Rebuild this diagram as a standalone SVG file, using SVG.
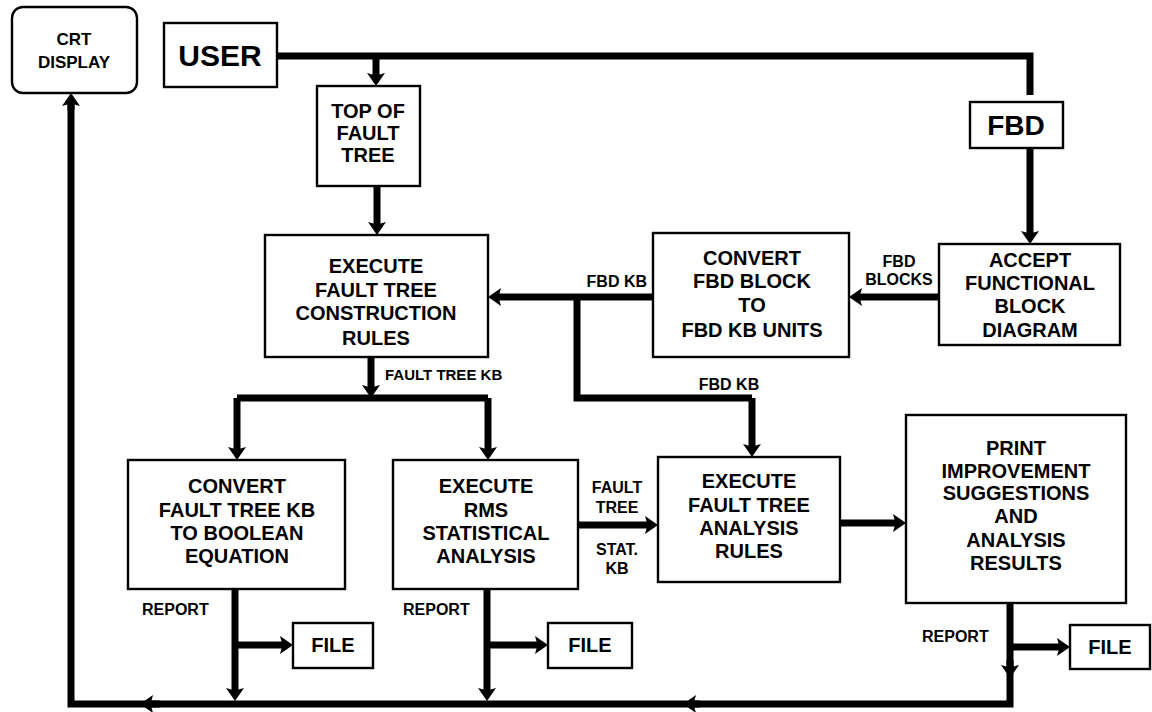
<svg xmlns="http://www.w3.org/2000/svg" width="1152" height="712" viewBox="0 0 1152 712">
<style>
.box{fill:#fff;stroke:#000;stroke-width:2.4}
.t{font-family:"Liberation Sans",Arial,sans-serif;font-weight:bold;font-size:20px;text-anchor:middle;fill:#000}
.lbl{font-family:"Liberation Sans",Arial,sans-serif;font-weight:bold;font-size:16px;fill:#000}
.c{fill:none;stroke:#000;stroke-width:7;stroke-linejoin:miter}
.a{marker-end:url(#ah)}
</style>
<defs>
<marker id="ah" viewBox="0 0 13 18" refX="6" refY="9" markerWidth="13" markerHeight="18" markerUnits="userSpaceOnUse" orient="auto">
<path d="M0,0 L13,9 L0,18 L2.5,9 Z" fill="#000"/>
</marker>
</defs>
<rect width="1152" height="712" fill="#fff"/>
<g id="connectors">
<path class="c" d="M277,56 H1030 V95"/>
<path class="c a" d="M376,56 V79"/>
<path class="c a" d="M377,186 V228"/>
<path class="c a" d="M1030,148 V237"/>
<path class="c a" d="M939,297 H856"/>
<path class="c a" d="M653,297 H495"/>
<path class="c" d="M577,297 V398 H752"/>
<path class="c a" d="M752,398 V450"/>
<path class="c a" d="M371,357 V391"/>
<path class="c" d="M237,398 H488"/>
<path class="c a" d="M237,398 V453"/>
<path class="c a" d="M488,398 V453"/>
<path class="c a" d="M578,525 H651"/>
<path class="c a" d="M840,523 H899"/>
<path class="c a" d="M235,589 V694"/>
<path class="c a" d="M235,645 H286"/>
<path class="c a" d="M487,589 V694"/>
<path class="c a" d="M487,645 H541"/>
<path class="c" d="M1010,603 V704 H71 V100"/>
<path class="c a" d="M71,110 V100"/>
<path class="c a" d="M1010,660 V671"/>
<path class="c a" d="M1010,647 H1063"/>
<path class="c a" d="M160,704 H147"/>
<path class="c a" d="M700,704 H690"/>
<text class="lbl" x="647" y="287" text-anchor="end">FBD KB</text>
<text class="lbl" x="899" y="267" text-anchor="middle">FBD</text>
<text class="lbl" x="899" y="285" text-anchor="middle">BLOCKS</text>
<text class="lbl" x="385" y="380" style="font-size:15px">FAULT TREE KB</text>
<text class="lbl" x="729" y="390" text-anchor="middle">FBD KB</text>
<text class="lbl" x="617" y="493" text-anchor="middle">FAULT</text>
<text class="lbl" x="617" y="513" text-anchor="middle">TREE</text>
<text class="lbl" x="617" y="555" text-anchor="middle">STAT.</text>
<text class="lbl" x="617" y="574" text-anchor="middle">KB</text>
<text class="lbl" x="142" y="615">REPORT</text>
<text class="lbl" x="403" y="615">REPORT</text>
<text class="lbl" x="922" y="642">REPORT</text>
</g>
<g id="crt">
<rect class="box" x="12" y="7" width="125" height="86" rx="11"/>
<text class="t" x="74" y="45" style="font-size:17px">CRT</text>
<text class="t" x="74" y="68" style="font-size:17px">DISPLAY</text>
</g>
<g id="user">
<rect class="box" x="164" y="23" width="113" height="64"/>
<text class="t" x="220" y="66" style="font-size:30px">USER</text>
</g>
<g id="top">
<rect class="box" x="317" y="86" width="103" height="100"/>
<text class="t" x="368" y="118">TOP OF</text>
<text class="t" x="368" y="140">FAULT</text>
<text class="t" x="368" y="162">TREE</text>
</g>
<g id="fbd">
<rect class="box" x="970" y="102" width="93" height="46"/>
<text class="t" x="1016" y="135" style="font-size:28px">FBD</text>
</g>
<g id="construct">
<rect class="box" x="265" y="235" width="223" height="122"/>
<text class="t" x="376" y="273">EXECUTE</text>
<text class="t" x="376" y="297">FAULT TREE</text>
<text class="t" x="376" y="320">CONSTRUCTION</text>
<text class="t" x="376" y="345">RULES</text>
</g>
<g id="convertfbd">
<rect class="box" x="653" y="233" width="196" height="124"/>
<text class="t" x="752" y="265">CONVERT</text>
<text class="t" x="752" y="288">FBD BLOCK</text>
<text class="t" x="752" y="312">TO</text>
<text class="t" x="752" y="337">FBD KB UNITS</text>
</g>
<g id="accept">
<rect class="box" x="939" y="244" width="181" height="101"/>
<text class="t" x="1030" y="267">ACCEPT</text>
<text class="t" x="1030" y="290">FUNCTIONAL</text>
<text class="t" x="1030" y="313">BLOCK</text>
<text class="t" x="1030" y="337">DIAGRAM</text>
</g>
<g id="boolean">
<rect class="box" x="128" y="460" width="217" height="129"/>
<text class="t" x="237" y="493">CONVERT</text>
<text class="t" x="237" y="517">FAULT TREE KB</text>
<text class="t" x="237" y="540">TO BOOLEAN</text>
<text class="t" x="237" y="563">EQUATION</text>
</g>
<g id="rms">
<rect class="box" x="393" y="460" width="185" height="129"/>
<text class="t" x="486" y="493">EXECUTE</text>
<text class="t" x="486" y="517">RMS</text>
<text class="t" x="486" y="540">STATISTICAL</text>
<text class="t" x="486" y="563">ANALYSIS</text>
</g>
<g id="analysis">
<rect class="box" x="658" y="457" width="182" height="125"/>
<text class="t" x="749" y="488">EXECUTE</text>
<text class="t" x="749" y="512">FAULT TREE</text>
<text class="t" x="749" y="535">ANALYSIS</text>
<text class="t" x="749" y="558">RULES</text>
</g>
<g id="print">
<rect class="box" x="906" y="415" width="220" height="188"/>
<text class="t" x="1016" y="455">PRINT</text>
<text class="t" x="1016" y="478">IMPROVEMENT</text>
<text class="t" x="1016" y="500">SUGGESTIONS</text>
<text class="t" x="1016" y="523">AND</text>
<text class="t" x="1016" y="547">ANALYSIS</text>
<text class="t" x="1016" y="570">RESULTS</text>
</g>
<g id="file1">
<rect class="box" x="293" y="623" width="80" height="45"/>
<text class="t" x="333" y="652">FILE</text>
</g>
<g id="file2">
<rect class="box" x="548" y="623" width="84" height="45"/>
<text class="t" x="590" y="652">FILE</text>
</g>
<g id="file3">
<rect class="box" x="1070" y="625" width="80" height="44"/>
<text class="t" x="1110" y="654">FILE</text>
</g>
</svg>
